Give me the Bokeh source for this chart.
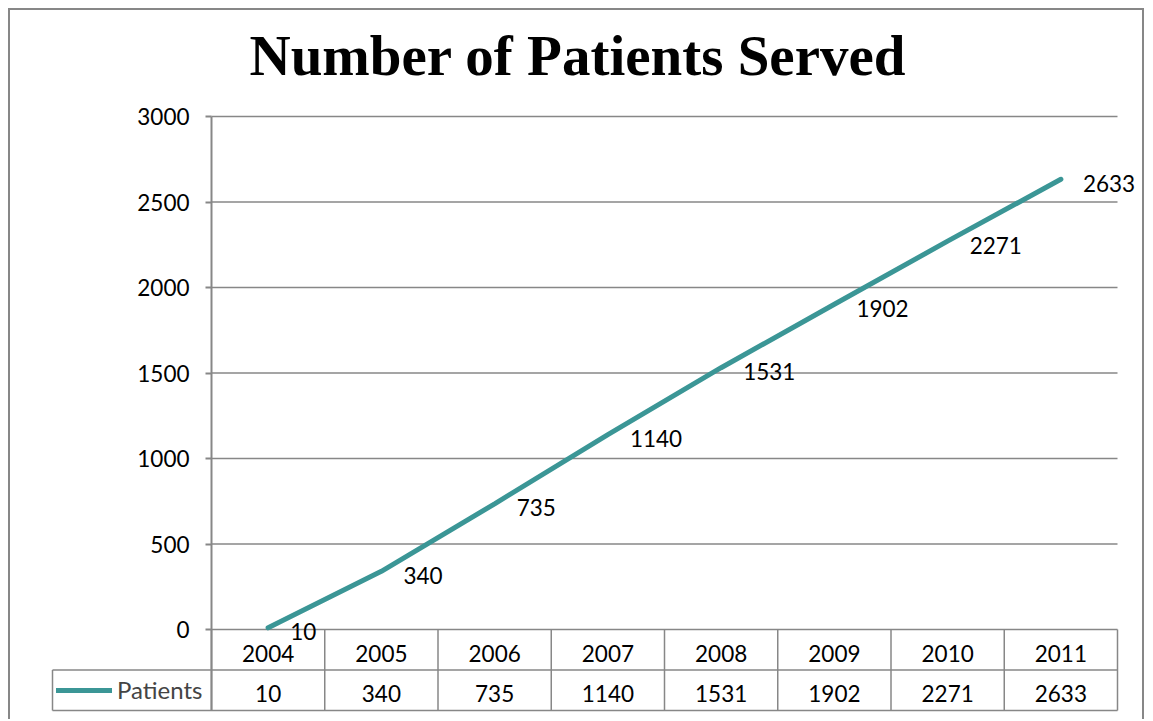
from bokeh.plotting import figure
from bokeh.models import (Range1d, FixedTicker, ColumnDataSource, Legend, LegendItem)
from bokeh.core.properties import value
from bokeh.embed import file_html
from bokeh.resources import INLINE

# ---- data ----
years = ["2004", "2005", "2006", "2007", "2008", "2009", "2010", "2011"]
patients = [10, 340, 735, 1140, 1531, 1902, 2271, 2633]
y_ticks = [0, 500, 1000, 1500, 2000, 2500, 3000]
title_text = "Number of Patients Served"
series_name = "Patients"

# ---- layout constants (pixels) ----
BIN_PX = 113.25          # width of one category bin
Y_PX = 513 / 3000        # pixels per patient
ROW_PX = 40.5            # height of one data-table row
FRAME_LEFT_EXTRA = 163   # px from frame left to category axis start
FRAME_RIGHT_EXTRA = 28
FRAME_TOP_EXTRA = 20
TABLE_PX = 81            # table height below zero line
FRAME_BOTTOM_EXTRA = TABLE_PX + 4
LEGEND_CELL_PX = 159

GRAY = "#878787"
TEAL = "#3b9696"
FONT = "Lato"
FS = "22.5px"

n = len(years)
xs = [i + 0.5 for i in range(n)]

x_start = -FRAME_LEFT_EXTRA / BIN_PX
x_end = n + FRAME_RIGHT_EXTRA / BIN_PX
y_start = -FRAME_BOTTOM_EXTRA / Y_PX
y_end = y_ticks[-1] + FRAME_TOP_EXTRA / Y_PX
t_start = -FRAME_BOTTOM_EXTRA / ROW_PX
t_end = y_end * Y_PX / ROW_PX

p = figure(width=1136, height=711, output_backend="svg", toolbar_location=None,
           x_range=Range1d(x_start, x_end), y_range=Range1d(y_start, y_end),
           min_border_left=38, min_border_right=1, min_border_top=86,
           min_border_bottom=7)
p.styles = {"border-top": "2px solid " + GRAY, "border-left": "2px solid " + GRAY,
            "border-right": "2px solid " + GRAY,
            "margin-left": "8px", "margin-top": "8px"}
p.outline_line_color = None
p.extra_y_ranges = {"table": Range1d(t_start, t_end)}

p.xaxis.visible = False
p.xgrid.visible = False
p.ygrid.visible = False

yax = p.yaxis[0]
yax.fixed_location = 0
yax.ticker = FixedTicker(ticks=y_ticks, minor_ticks=[])
yax.bounds = (-TABLE_PX / Y_PX, y_ticks[-1])
yax.axis_line_color = GRAY
yax.axis_line_width = 2
yax.major_tick_line_color = GRAY
yax.major_tick_line_width = 2
yax.major_tick_out = 6
yax.major_tick_in = 0
yax.minor_tick_line_color = None
yax.major_label_text_font = FONT
yax.major_label_text_font_size = FS
yax.major_label_text_color = "#000000"
yax.major_label_standoff = 16

# title
p.title.text = title_text
p.title.align = "left"
p.title.offset = 201
p.title.text_font = "Liberation Serif"
p.title.text_font_style = "bold"
p.title.text_font_size = "57px"
p.title.text_color = "#000000"
p.title.standoff = 19

# gridlines (0..n across category area)
p.segment(x0=[0] * len(y_ticks), x1=[n] * len(y_ticks), y0=y_ticks, y1=y_ticks,
          line_color=GRAY, line_width=1.5)

# data table grid
legend_left = -LEGEND_CELL_PX / BIN_PX
bounds_x = list(range(n + 1))
p.segment(x0=bounds_x, x1=bounds_x, y0=[0] * len(bounds_x), y1=[-2] * len(bounds_x),
          y_range_name="table", line_color=GRAY, line_width=1.5)
p.segment(x0=[legend_left, legend_left, legend_left], x1=[n, n, legend_left],
          y0=[-1, -2, -1], y1=[-1, -2, -2],
          y_range_name="table", line_color=GRAY, line_width=1.5)

# line
src = ColumnDataSource(dict(x=xs, y=patients, lbl=[str(v) for v in patients],
                            yr=years, ty=[-0.5] * n, tv=[-1.5] * n))
line = p.line("x", "y", source=src, line_color=TEAL, line_width=5, line_cap="round")

# data labels
p.text("x", "y", text="lbl", source=src, text_font=value(FONT), text_font_size=FS,
       text_align="left", text_baseline="middle", x_offset=22, y_offset=4,
       text_color="#000000")

# table text
p.text("x", "ty", text="yr", source=src, y_range_name="table", text_font=value(FONT),
       text_font_size=FS, text_align="center", text_baseline="middle", y_offset=4,
       text_color="#000000")
p.text("x", "tv", text="lbl", source=src, y_range_name="table", text_font=value(FONT),
       text_font_size=FS, text_align="center", text_baseline="middle", y_offset=3,
       text_color="#000000")

legend = Legend(items=[LegendItem(label=series_name, renderers=[line])],
                location=(8, 10), padding=0, margin=0, spacing=0,
                glyph_width=56, glyph_height=20, label_height=20, label_standoff=5,
                label_text_font=FONT, label_text_font_size="24px",
                border_line_alpha=0, background_fill_alpha=0)
p.add_layout(legend)

open("out.html", "w").write(file_html(p, INLINE))
